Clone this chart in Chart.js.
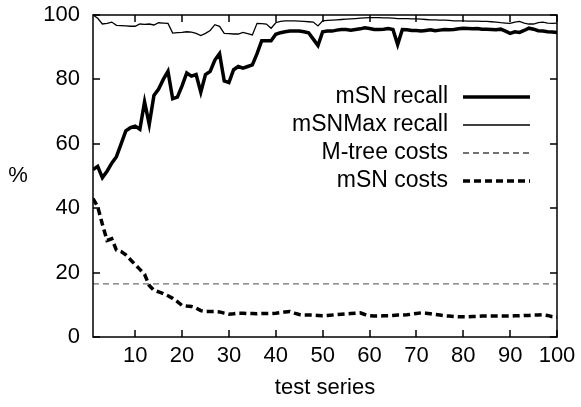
<!DOCTYPE html>
<html>
<head>
<meta charset="utf-8">
<script src="https://cdn.jsdelivr.net/npm/chart.js@4"></script>
<style>
  html, body { margin: 0; padding: 0; background: #fff; }
  #wrap { width: 581px; height: 407px; }
</style>
</head>
<body>
<div id="wrap"><canvas id="chart" width="581" height="407"></canvas></div>
<script>
// test series 1..100
const testSeries = Array.from({ length: 100 }, (_, i) => i + 1);
const xTicks = [10, 20, 30, 40, 50, 60, 70, 80, 90, 100];
const yTicks = [0, 20, 40, 60, 80, 100];

const mSNRecall = [
  52, 53, 49.5, 51.5, 54, 56, 60, 64, 65, 65.5,
  64.5, 73, 66, 75, 77, 80, 82.5, 74, 74.5, 78,
  82, 81, 81.5, 76, 81.5, 82.5, 86, 88, 79.5, 79,
  83, 84, 83.5, 84, 84.5, 88, 92, 92, 92, 94,
  94.5, 94.8, 95, 95, 95, 94.8, 94.5, 92.5, 90.5, 94.8,
  95, 95, 95.3, 95.5, 95.5, 95.3, 95.5, 95.7, 96, 95.8,
  95.5, 95.5, 95.6, 95.8, 95.5, 90.8, 95.5, 95.4, 95.2, 95.2,
  95, 95.2, 95.4, 95.1, 95.3, 95.5, 95.4, 95.5, 95.7, 95.9,
  95.8, 95.7, 95.8, 95.6, 95.6, 95.5, 95.4, 95.6, 95, 94.3,
  94.8, 94.6, 95.2, 95.9, 95.6, 95.1, 95, 94.8, 94.7, 94.6
];

const mSNMaxRecall = [
  100, 99, 97.2, 97.4, 97.8, 96.8, 96.7, 96.6, 96.5, 96.5,
  97.2, 97.1, 97.2, 96.9, 97.6, 97.5, 97.4, 94.4, 94.5, 94.6,
  94.8, 94.7, 94.3, 93.6, 94.3, 95.2, 97, 96.5, 94.3, 94.2,
  94.1, 94.1, 94.6, 94.2, 93.8, 97.4, 97.3, 97.2, 95.9, 97.6,
  98, 98.2, 98.2, 98.2, 98.1, 98, 97.9, 97.8, 96.6, 98.2,
  98.3, 98.4, 98.5, 98.6, 98.7, 98.8, 98.9, 99, 99.1, 99.2,
  99.2, 99.2, 99.1, 99.1, 99, 98.9, 98.9, 98.9, 98.8, 98.8,
  98.7, 98.6, 98.5, 98.5, 98.4, 98.4, 98.3, 98.2, 98.2, 98.2,
  98.1, 98.1, 98.1, 98, 98, 97.9, 97.8, 97.6, 97.5, 97.4,
  97.8, 98, 97.5, 97.2, 97.2, 97.6, 97.8, 97.5, 97.4, 97.5
];

const mTreeX = [1, 100];
const mTreeCosts = [16.5, 16.5];

const mSNCosts = [
  43, 40.5, 35, 30, 30.5, 27, 26.5, 25.5, 24, 22.5,
  21, 19.5, 16, 14.5, 14, 13.5, 12.8, 12, 11, 9.8,
  9.6, 9.5, 9, 8.2, 7.9, 7.9, 7.9, 7.8, 7.4, 7.1,
  7.2, 7.4, 7.4, 7.3, 7.3, 7.2, 7.3, 7.3, 7.3, 7.4,
  7.6, 7.8, 7.9, 7.4, 7, 6.8, 6.8, 6.8, 6.7, 6.6,
  6.7, 6.8, 7, 7.1, 7.2, 7.3, 7.4, 7.5, 7, 6.6,
  6.5, 6.5, 6.6, 6.6, 6.7, 6.8, 6.8, 6.9, 7.1, 7.3,
  7.5, 7.4, 7.2, 7, 6.8, 6.6, 6.5, 6.4, 6.3, 6.3,
  6.3, 6.4, 6.4, 6.5, 6.5, 6.5, 6.5, 6.5, 6.5, 6.5,
  6.6, 6.6, 6.7, 6.7, 6.8, 6.8, 6.9, 6.7, 6.3, 6.2
];

const FONT = '"Liberation Sans", Arial, Helvetica, sans-serif';
const FSIZE = 22;
const LEGEND_FSIZE = 23;

const toXY = (xs, ys) => ys.map((y, i) => ({ x: xs[i], y: y }));

// frame, inward ticks on all sides, y label and legend (gnuplot style)
const gnuplotFrame = {
  id: 'gnuplotFrame',
  afterDatasetsDraw(chart) {
    const { ctx, chartArea: a, scales } = chart;
    const tick = 7;
    ctx.save();
    ctx.strokeStyle = '#000';
    ctx.lineWidth = 1.5;
    ctx.setLineDash([]);
    ctx.strokeRect(a.left, a.top, a.right - a.left, a.bottom - a.top);

    ctx.beginPath();
    xTicks.forEach(v => {
      const px = Math.round(scales.x.getPixelForValue(v));
      ctx.moveTo(px, a.bottom); ctx.lineTo(px, a.bottom - tick);
      ctx.moveTo(px, a.top); ctx.lineTo(px, a.top + tick);
    });
    yTicks.forEach(v => {
      const py = Math.round(scales.y.getPixelForValue(v));
      ctx.moveTo(a.left, py); ctx.lineTo(a.left + tick, py);
      ctx.moveTo(a.right, py); ctx.lineTo(a.right - tick, py);
    });
    ctx.stroke();

    // y axis label
    ctx.fillStyle = '#000';
    ctx.font = FSIZE + 'px ' + FONT;
    ctx.textAlign = 'center';
    ctx.textBaseline = 'middle';
    ctx.fillText('%', 18, (a.top + a.bottom) / 2);

    // legend
    ctx.font = LEGEND_FSIZE + 'px ' + FONT;
    const textRight = a.right - 109;
    const x0 = textRight + 15, x1 = textRight + 82;
    chart.data.datasets.forEach((ds, i) => {
      const y = a.top + 82 + i * 28;
      ctx.textAlign = 'right';
      ctx.fillStyle = '#000';
      ctx.fillText(ds.label, textRight, y);
      ctx.beginPath();
      ctx.strokeStyle = ds.legendColor || ds.borderColor;
      ctx.lineWidth = ds.borderWidth;
      ctx.setLineDash(ds.borderDash || []);
      ctx.moveTo(x0, y); ctx.lineTo(x1, y);
      ctx.stroke();
    });
    ctx.restore();
  }
};

new Chart(document.getElementById('chart').getContext('2d'), {
  type: 'line',
  data: {
    datasets: [
      {
        label: 'mSN recall',
        data: toXY(testSeries, mSNRecall),
        borderColor: '#000',
        borderWidth: 3.5,
        pointRadius: 0,
        tension: 0
      },
      {
        label: 'mSNMax recall',
        data: toXY(testSeries, mSNMaxRecall),
        borderColor: '#000',
        borderWidth: 1.3,
        pointRadius: 0,
        tension: 0
      },
      {
        label: 'M-tree costs',
        data: toXY(mTreeX, mTreeCosts),
        borderColor: '#707070',
        legendColor: '#444',
        borderWidth: 1.3,
        borderDash: [6, 4],
        pointRadius: 0,
        tension: 0
      },
      {
        label: 'mSN costs',
        data: toXY(testSeries, mSNCosts),
        borderColor: '#000',
        borderWidth: 3.5,
        borderDash: [7, 4],
        pointRadius: 0,
        tension: 0
      }
    ]
  },
  options: {
    responsive: false,
    animation: false,
    layout: { padding: { left: 0, right: 24, top: 15, bottom: 0 } },
    plugins: {
      legend: { display: false },
      tooltip: { enabled: false }
    },
    scales: {
      x: {
        type: 'linear',
        min: 1,
        max: 100,
        afterBuildTicks: scale => { scale.ticks = xTicks.map(v => ({ value: v })); },
        afterFit: scale => {
          scale.height = 70;
          scale.paddingLeft = 0;
          scale.paddingRight = 0;
        },
        grid: { display: false, drawTicks: false },
        border: { display: false },
        ticks: { color: '#000', font: { family: FONT, size: FSIZE }, padding: 6, maxRotation: 0 },
        title: {
          display: true,
          text: 'test series',
          color: '#000',
          font: { family: FONT, size: FSIZE },
          padding: { top: 0, bottom: 6 }
        }
      },
      y: {
        min: 0,
        max: 100,
        afterBuildTicks: scale => { scale.ticks = yTicks.map(v => ({ value: v })); },
        afterFit: scale => {
          scale.width = 93;
          scale.paddingTop = 0;
          scale.paddingBottom = 0;
        },
        grid: { display: false, drawTicks: false },
        border: { display: false },
        ticks: { color: '#000', font: { family: FONT, size: FSIZE }, padding: 13 }
      }
    }
  },
  plugins: [gnuplotFrame]
});
</script>
</body>
</html>
